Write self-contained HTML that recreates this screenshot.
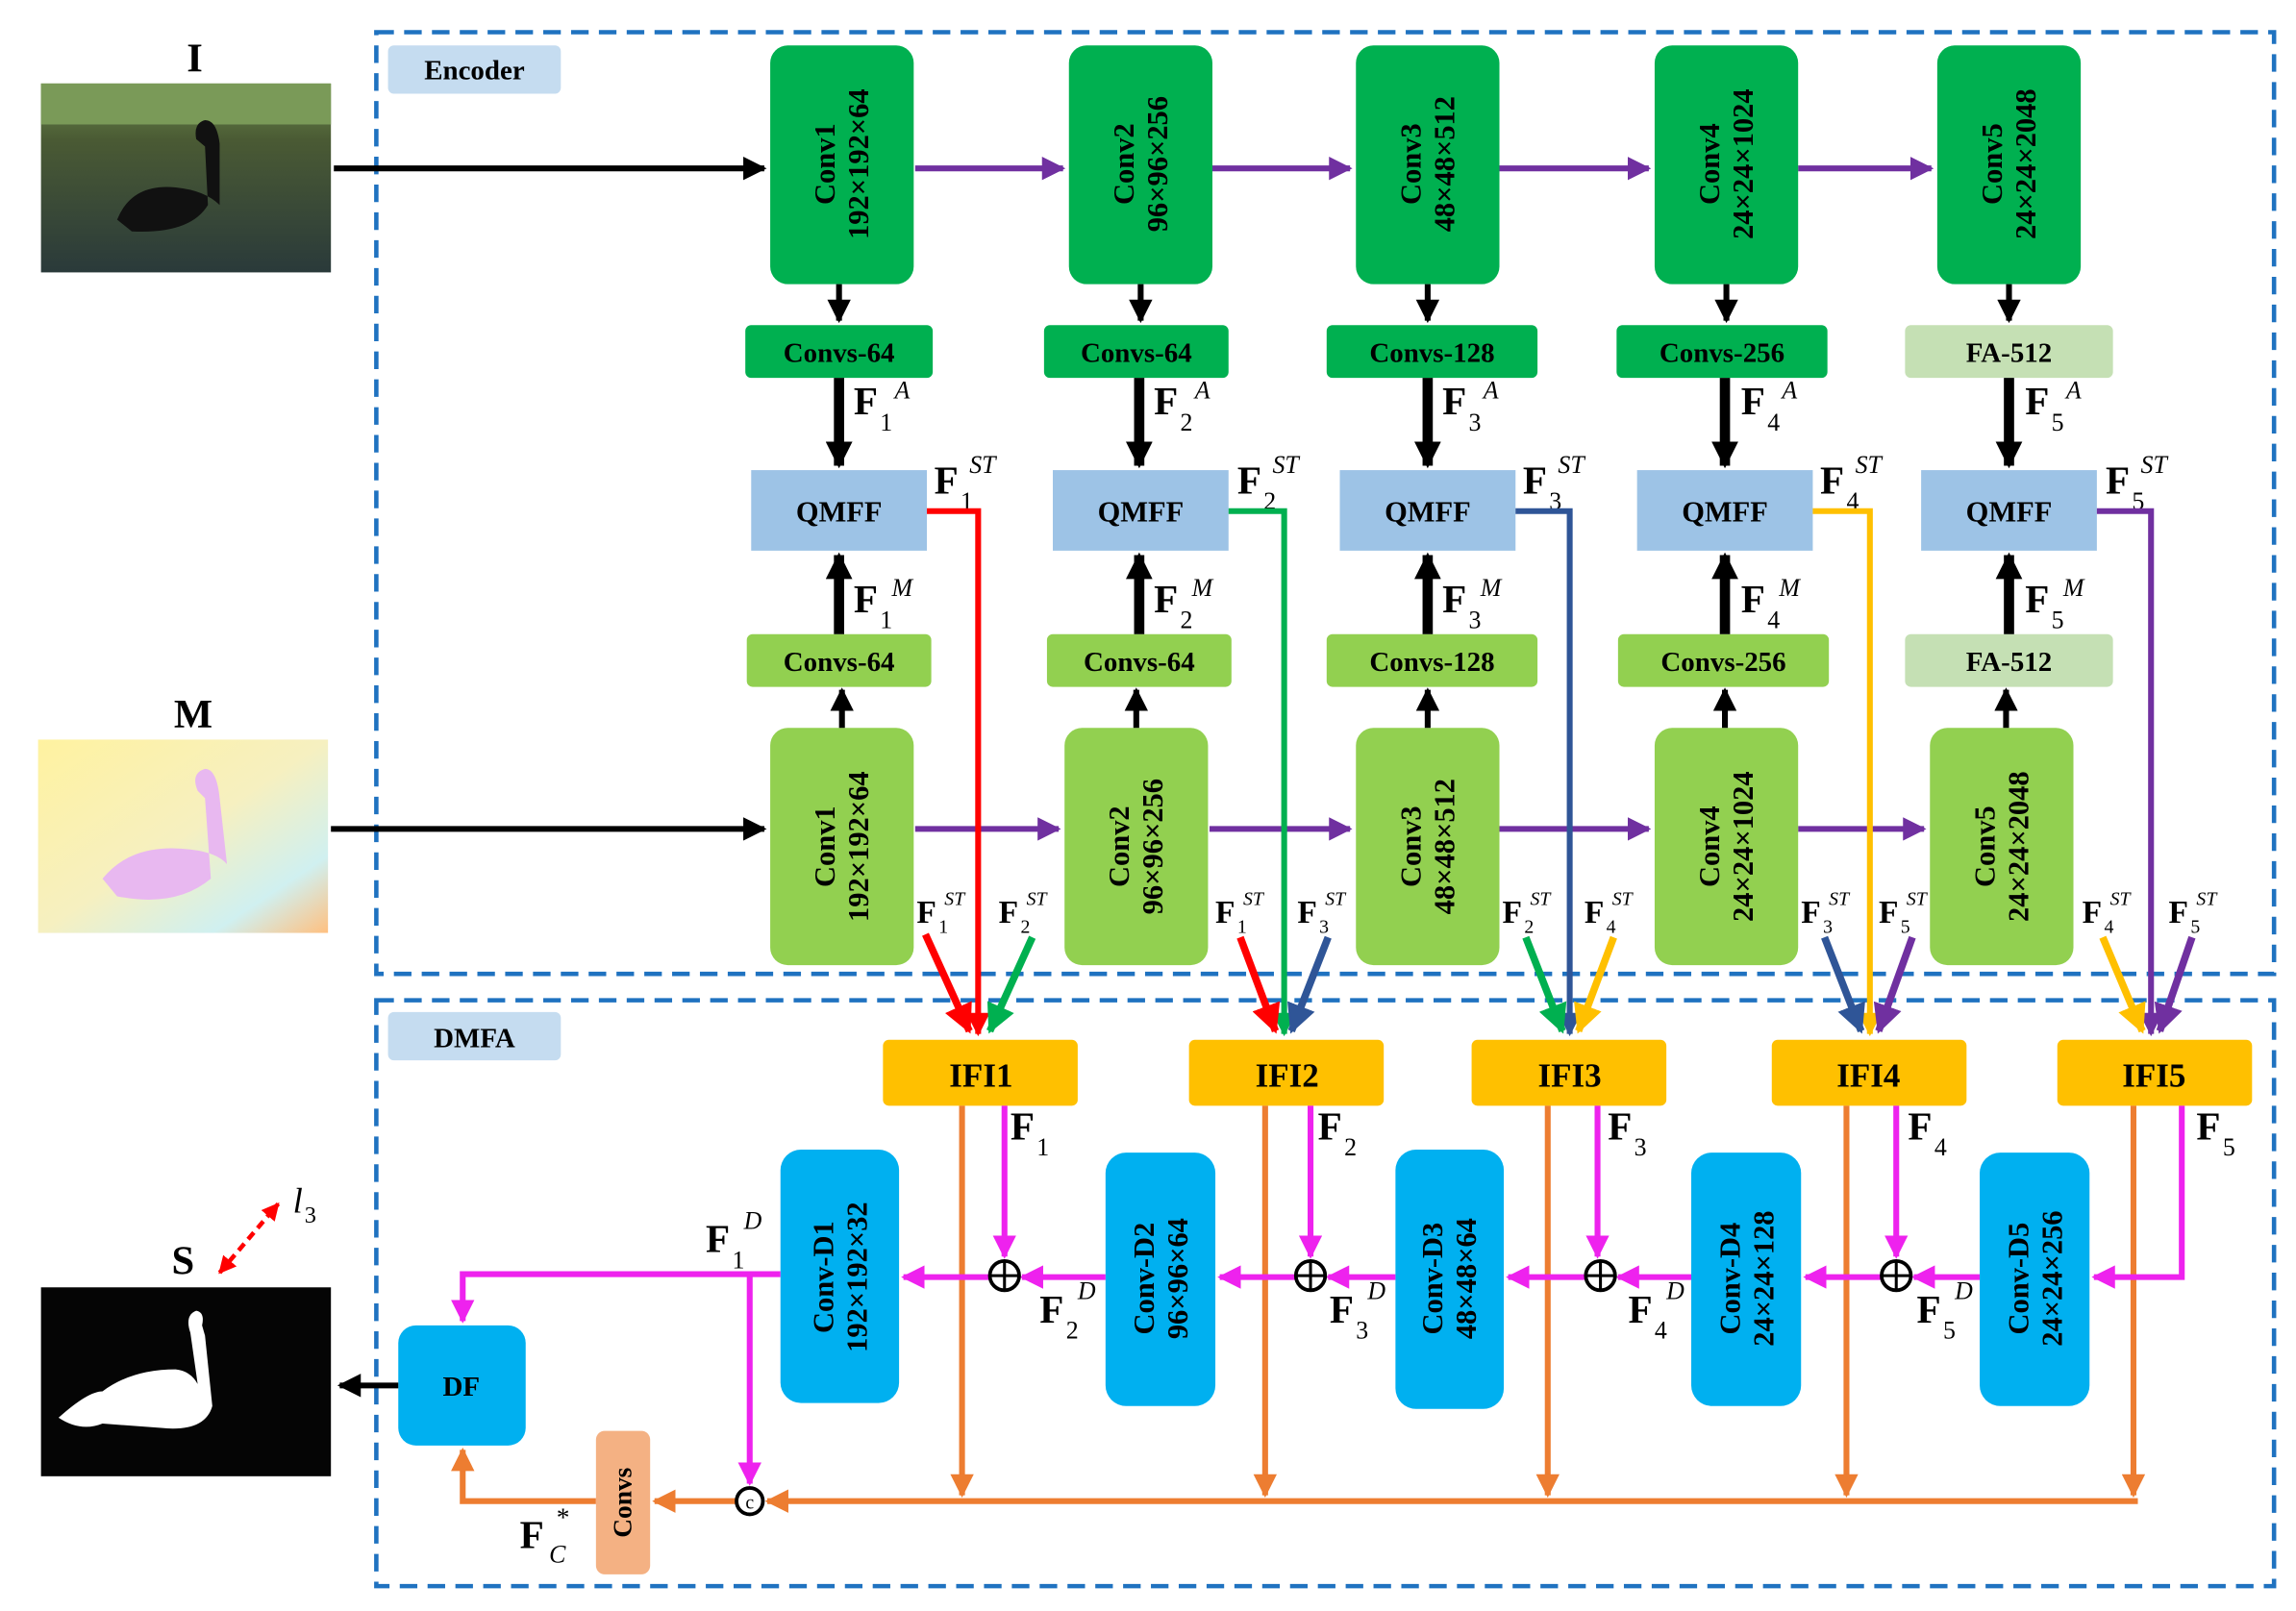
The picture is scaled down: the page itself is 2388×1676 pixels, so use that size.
<!DOCTYPE html>
<html><head><meta charset="utf-8"><style>
html,body{margin:0;padding:0;background:#fff}
svg{display:block}
text{font-family:"Liberation Serif",serif}
.b{font-weight:bold}
</style></head><body>
<svg width="2388" height="1676" viewBox="0 0 1568 1100" preserveAspectRatio="none" xmlns="http://www.w3.org/2000/svg">
<defs>
<marker id="ak" viewBox="0 0 10 10" refX="9" refY="5" markerWidth="4" markerHeight="4" orient="auto"><path d="M0,0L10,5L0,10z" fill="#000"/></marker>
<marker id="akt" viewBox="0 0 10 10" refX="9" refY="5" markerWidth="2.6" markerHeight="2.6" orient="auto"><path d="M0,0L10,5L0,10z" fill="#000"/></marker>
<marker id="ap" viewBox="0 0 10 10" refX="9" refY="5" markerWidth="4" markerHeight="4" orient="auto"><path d="M0,0L10,5L0,10z" fill="#7030A0"/></marker>
<marker id="ar" viewBox="0 0 10 10" refX="9" refY="5" markerWidth="4" markerHeight="4" orient="auto"><path d="M0,0L10,5L0,10z" fill="#FF0000"/></marker>
<marker id="ag" viewBox="0 0 10 10" refX="9" refY="5" markerWidth="4" markerHeight="4" orient="auto"><path d="M0,0L10,5L0,10z" fill="#00B050"/></marker>
<marker id="ab" viewBox="0 0 10 10" refX="9" refY="5" markerWidth="4" markerHeight="4" orient="auto"><path d="M0,0L10,5L0,10z" fill="#2F5597"/></marker>
<marker id="ay" viewBox="0 0 10 10" refX="9" refY="5" markerWidth="4" markerHeight="4" orient="auto"><path d="M0,0L10,5L0,10z" fill="#FFC000"/></marker>
<marker id="am" viewBox="0 0 10 10" refX="9" refY="5" markerWidth="4" markerHeight="4" orient="auto"><path d="M0,0L10,5L0,10z" fill="#EE22EE"/></marker>
<marker id="ao" viewBox="0 0 10 10" refX="9" refY="5" markerWidth="4" markerHeight="4" orient="auto"><path d="M0,0L10,5L0,10z" fill="#ED7D31"/></marker>
<marker id="ad" viewBox="0 0 10 10" refX="9" refY="5" markerWidth="4" markerHeight="4" orient="auto-start-reverse"><path d="M0,0L10,5L0,10z" fill="#FF0000"/></marker>
<linearGradient id="water" x1="0" y1="0" x2="0" y2="1"><stop offset="0" stop-color="#6b8a4a"/><stop offset="0.3" stop-color="#4a5a34"/><stop offset="1" stop-color="#2a3a3a"/></linearGradient>
<linearGradient id="mg" x1="0" y1="0" x2="1" y2="1"><stop offset="0" stop-color="#fff2a0"/><stop offset="0.5" stop-color="#f6f0c0"/><stop offset="0.8" stop-color="#d0f0f0"/><stop offset="1" stop-color="#ffc080"/></linearGradient>
</defs>

<rect x="257" y="22" width="1296" height="643" fill="none" stroke="#1F72C0" stroke-width="3" stroke-dasharray="12,7"/>
<rect x="257" y="683" width="1296" height="400" fill="none" stroke="#1F72C0" stroke-width="3" stroke-dasharray="12,7"/>
<rect x="265" y="31" width="118" height="33" rx="4" fill="#C5DCF0"/>
<text x="324" y="54" text-anchor="middle" font-size="19" class="b">Encoder</text>
<rect x="265" y="691" width="118" height="33" rx="4" fill="#C5DCF0"/>
<text x="324" y="715" text-anchor="middle" font-size="19" class="b">DMFA</text>

<text x="133" y="49" text-anchor="middle" font-size="28" class="b">I</text>
<rect x="28" y="57" width="198" height="129" fill="url(#water)"/>
<rect x="28" y="57" width="198" height="28" fill="#7a9a58"/>
<path d="M80,150 Q90,125 120,128 Q140,130 150,140 L150,98 Q148,82 140,82 Q132,84 134,95 L140,100 L142,140 Q130,160 90,158z" fill="#111"/>
<text x="132" y="497" text-anchor="middle" font-size="28" class="b">M</text>
<rect x="26" y="505" width="198" height="132" fill="url(#mg)"/>
<path d="M70,600 Q90,575 130,580 Q148,582 155,590 L150,545 Q148,525 140,525 Q130,528 135,540 L140,545 L144,600 Q120,620 80,612z" fill="#e8b8f0"/>
<text x="125" y="870" text-anchor="middle" font-size="28" class="b">S</text>
<rect x="28" y="879" width="198" height="129" fill="#050505"/>
<path d="M40,968 Q60,950 70,950 Q90,935 120,935 Q130,936 135,945 L130,910 Q126,898 134,895 Q140,896 138,905 L140,912 L145,960 Q140,978 110,975 L70,972 Q55,978 40,968z" fill="#fff"/>
<line x1="150" y1="869" x2="190" y2="822" stroke="#FF0000" stroke-width="3" stroke-dasharray="6,4" marker-end="url(#ad)" marker-start="url(#ad)"/>
<text x="200" y="828" font-size="24" font-style="italic">l</text><text x="208" y="835" font-size="16">3</text>

<line x1="228" y1="115" x2="522" y2="115" stroke="#000" stroke-width="4" marker-end="url(#ak)"/>
<line x1="226" y1="566" x2="522" y2="566" stroke="#000" stroke-width="4" marker-end="url(#ak)"/>

<g stroke="#7030A0" stroke-width="4" marker-end="url(#ap)">
<line x1="625" y1="115" x2="726" y2="115"/><line x1="828" y1="115" x2="922" y2="115"/><line x1="1024" y1="115" x2="1126" y2="115"/><line x1="1228" y1="115" x2="1319" y2="115"/>
<line x1="625" y1="566" x2="723" y2="566"/><line x1="826" y1="566" x2="922" y2="566"/><line x1="1024" y1="566" x2="1126" y2="566"/><line x1="1228" y1="566" x2="1314" y2="566"/>
</g>

<g fill="#00B050">
<rect x="526" y="31" width="98" height="163" rx="12"/><rect x="730" y="31" width="98" height="163" rx="12"/><rect x="926" y="31" width="98" height="163" rx="12"/><rect x="1130" y="31" width="98" height="163" rx="12"/><rect x="1323" y="31" width="98" height="163" rx="12"/>
</g>
<g font-size="20" class="b" text-anchor="middle">
<text transform="translate(575,112) rotate(-90)"><tspan x="0" y="-5">Conv1</tspan><tspan x="0" y="18">192×192×64</tspan></text>
<text transform="translate(779,112) rotate(-90)"><tspan x="0" y="-5">Conv2</tspan><tspan x="0" y="18">96×96×256</tspan></text>
<text transform="translate(975,112) rotate(-90)"><tspan x="0" y="-5">Conv3</tspan><tspan x="0" y="18">48×48×512</tspan></text>
<text transform="translate(1179,112) rotate(-90)"><tspan x="0" y="-5">Conv4</tspan><tspan x="0" y="18">24×24×1024</tspan></text>
<text transform="translate(1372,112) rotate(-90)"><tspan x="0" y="-5">Conv5</tspan><tspan x="0" y="18">24×24×2048</tspan></text>
</g>
<g fill="#92D050">
<rect x="526" y="497" width="98" height="162" rx="12"/><rect x="727" y="497" width="98" height="162" rx="12"/><rect x="926" y="497" width="98" height="162" rx="12"/><rect x="1130" y="497" width="98" height="162" rx="12"/><rect x="1318" y="497" width="98" height="162" rx="12"/>
</g>
<g font-size="20" class="b" text-anchor="middle">
<text transform="translate(575,578) rotate(-90)"><tspan x="0" y="-5">Conv1</tspan><tspan x="0" y="18">192×192×64</tspan></text>
<text transform="translate(776,578) rotate(-90)"><tspan x="0" y="-5">Conv2</tspan><tspan x="0" y="18">96×96×256</tspan></text>
<text transform="translate(975,578) rotate(-90)"><tspan x="0" y="-5">Conv3</tspan><tspan x="0" y="18">48×48×512</tspan></text>
<text transform="translate(1179,578) rotate(-90)"><tspan x="0" y="-5">Conv4</tspan><tspan x="0" y="18">24×24×1024</tspan></text>
<text transform="translate(1367,578) rotate(-90)"><tspan x="0" y="-5">Conv5</tspan><tspan x="0" y="18">24×24×2048</tspan></text>
</g>

<rect x="509" y="222" width="128" height="36" rx="4" fill="#00B050"/>
<rect x="713" y="222" width="126" height="36" rx="4" fill="#00B050"/>
<rect x="906" y="222" width="144" height="36" rx="4" fill="#00B050"/>
<rect x="1104" y="222" width="144" height="36" rx="4" fill="#00B050"/>
<rect x="1301" y="222" width="142" height="36" rx="4" fill="#C5E0B4"/>
<rect x="510" y="433" width="126" height="36" rx="4" fill="#92D050"/>
<rect x="715" y="433" width="126" height="36" rx="4" fill="#92D050"/>
<rect x="906" y="433" width="144" height="36" rx="4" fill="#92D050"/>
<rect x="1105" y="433" width="144" height="36" rx="4" fill="#92D050"/>
<rect x="1301" y="433" width="142" height="36" rx="4" fill="#C5E0B4"/>
<g font-size="19" class="b" text-anchor="middle">
<text x="573" y="247">Convs-64</text><text x="776" y="247">Convs-64</text><text x="978" y="247">Convs-128</text><text x="1176" y="247">Convs-256</text><text x="1372" y="247">FA-512</text>
<text x="573" y="458">Convs-64</text><text x="778" y="458">Convs-64</text><text x="978" y="458">Convs-128</text><text x="1177" y="458">Convs-256</text><text x="1372" y="458">FA-512</text>
</g>
<g fill="#9DC3E6">
<rect x="513" y="321" width="120" height="55"/><rect x="719" y="321" width="120" height="55"/><rect x="915" y="321" width="120" height="55"/><rect x="1118" y="321" width="120" height="55"/><rect x="1312" y="321" width="120" height="55"/>
</g>
<g font-size="20" class="b" text-anchor="middle">
<text x="573" y="356">QMFF</text><text x="779" y="356">QMFF</text><text x="975" y="356">QMFF</text><text x="1178" y="356">QMFF</text><text x="1372" y="356">QMFF</text>
</g>

<g stroke="#000" stroke-width="4" marker-end="url(#ak)">
<line x1="573" y1="194" x2="573" y2="219"/><line x1="779" y1="194" x2="779" y2="219"/><line x1="975" y1="194" x2="975" y2="219"/><line x1="1179" y1="194" x2="1179" y2="219"/><line x1="1372" y1="194" x2="1372" y2="219"/>
<line x1="575" y1="497" x2="575" y2="471"/><line x1="776" y1="497" x2="776" y2="471"/><line x1="975" y1="497" x2="975" y2="471"/><line x1="1178" y1="497" x2="1178" y2="471"/><line x1="1370" y1="497" x2="1370" y2="471"/>
</g>
<g stroke="#000" stroke-width="7" marker-end="url(#akt)">
<line x1="573" y1="258" x2="573" y2="318"/><line x1="778" y1="258" x2="778" y2="318"/><line x1="975" y1="258" x2="975" y2="318"/><line x1="1178" y1="258" x2="1178" y2="318"/><line x1="1372" y1="258" x2="1372" y2="318"/>
<line x1="573" y1="433" x2="573" y2="379"/><line x1="778" y1="433" x2="778" y2="379"/><line x1="975" y1="433" x2="975" y2="379"/><line x1="1178" y1="433" x2="1178" y2="379"/><line x1="1372" y1="433" x2="1372" y2="379"/>
</g>

<g font-size="27" class="b">
<text x="583" y="283">F</text><text x="788" y="283">F</text><text x="985" y="283">F</text><text x="1189" y="283">F</text><text x="1383" y="283">F</text>
<text x="583" y="418">F</text><text x="788" y="418">F</text><text x="985" y="418">F</text><text x="1189" y="418">F</text><text x="1383" y="418">F</text>
<text x="638" y="337">F</text><text x="845" y="337">F</text><text x="1040" y="337">F</text><text x="1243" y="337">F</text><text x="1438" y="337">F</text>
</g>
<g font-size="17">
<text x="601" y="294">1</text><text x="806" y="294">2</text><text x="1003" y="294">3</text><text x="1207" y="294">4</text><text x="1401" y="294">5</text>
<text x="601" y="429">1</text><text x="806" y="429">2</text><text x="1003" y="429">3</text><text x="1207" y="429">4</text><text x="1401" y="429">5</text>
<text x="656" y="348">1</text><text x="863" y="348">2</text><text x="1058" y="348">3</text><text x="1261" y="348">4</text><text x="1456" y="348">5</text>
</g>
<g font-size="17" font-style="italic">
<text x="611" y="272">A</text><text x="816" y="272">A</text><text x="1013" y="272">A</text><text x="1217" y="272">A</text><text x="1411" y="272">A</text>
<text x="609" y="407">M</text><text x="814" y="407">M</text><text x="1011" y="407">M</text><text x="1215" y="407">M</text><text x="1409" y="407">M</text>
<text x="662" y="323">ST</text><text x="869" y="323">ST</text><text x="1064" y="323">ST</text><text x="1267" y="323">ST</text><text x="1462" y="323">ST</text>
</g>

<polyline points="633,349 668,349 668,706" fill="none" stroke="#FF0000" stroke-width="4" marker-end="url(#ar)"/>
<polyline points="839,349 877,349 877,706" fill="none" stroke="#00B050" stroke-width="4" marker-end="url(#ag)"/>
<polyline points="1035,349 1072,349 1072,706" fill="none" stroke="#2F5597" stroke-width="4" marker-end="url(#ab)"/>
<polyline points="1238,349 1277,349 1277,706" fill="none" stroke="#FFC000" stroke-width="4" marker-end="url(#ay)"/>
<polyline points="1432,349 1469,349 1469,706" fill="none" stroke="#7030A0" stroke-width="4" marker-end="url(#ap)"/>
<g stroke-width="5">
<line x1="632" y1="638" x2="662" y2="704" stroke="#FF0000" marker-end="url(#ar)"/>
<line x1="705" y1="640" x2="676" y2="704" stroke="#00B050" marker-end="url(#ag)"/>
<line x1="847" y1="640" x2="871" y2="704" stroke="#FF0000" marker-end="url(#ar)"/>
<line x1="907" y1="640" x2="882" y2="704" stroke="#2F5597" marker-end="url(#ab)"/>
<line x1="1042" y1="640" x2="1067" y2="704" stroke="#00B050" marker-end="url(#ag)"/>
<line x1="1102" y1="640" x2="1078" y2="704" stroke="#FFC000" marker-end="url(#ay)"/>
<line x1="1246" y1="640" x2="1271" y2="704" stroke="#2F5597" marker-end="url(#ab)"/>
<line x1="1306" y1="640" x2="1283" y2="704" stroke="#7030A0" marker-end="url(#ap)"/>
<line x1="1436" y1="640" x2="1463" y2="704" stroke="#FFC000" marker-end="url(#ay)"/>
<line x1="1497" y1="640" x2="1475" y2="704" stroke="#7030A0" marker-end="url(#ap)"/>
</g>
<g font-size="22" class="b">
<text x="626" y="630">F</text><text x="682" y="630">F</text><text x="830" y="630">F</text><text x="886" y="630">F</text><text x="1026" y="630">F</text><text x="1082" y="630">F</text><text x="1230" y="630">F</text><text x="1283" y="630">F</text><text x="1422" y="630">F</text><text x="1481" y="630">F</text>
</g>
<g font-size="13">
<text x="641" y="637">1</text><text x="697" y="637">2</text><text x="845" y="637">1</text><text x="901" y="637">3</text><text x="1041" y="637">2</text><text x="1097" y="637">4</text><text x="1245" y="637">3</text><text x="1298" y="637">5</text><text x="1437" y="637">4</text><text x="1496" y="637">5</text>
</g>
<g font-size="13" font-style="italic">
<text x="645" y="618">ST</text><text x="701" y="618">ST</text><text x="849" y="618">ST</text><text x="905" y="618">ST</text><text x="1045" y="618">ST</text><text x="1101" y="618">ST</text><text x="1249" y="618">ST</text><text x="1302" y="618">ST</text><text x="1441" y="618">ST</text><text x="1500" y="618">ST</text>
</g>

<g fill="#FFC000">
<rect x="603" y="710" width="133" height="45" rx="4"/><rect x="812" y="710" width="133" height="45" rx="4"/><rect x="1005" y="710" width="133" height="45" rx="4"/><rect x="1210" y="710" width="133" height="45" rx="4"/><rect x="1405" y="710" width="133" height="45" rx="4"/>
</g>
<g font-size="23" class="b" text-anchor="middle">
<text x="670" y="742">IFI1</text><text x="879" y="742">IFI2</text><text x="1072" y="742">IFI3</text><text x="1276" y="742">IFI4</text><text x="1471" y="742">IFI5</text>
</g>

<g stroke="#ED7D31" stroke-width="4" fill="none">
<line x1="657" y1="755" x2="657" y2="1021" marker-end="url(#ao)"/>
<line x1="864" y1="755" x2="864" y2="1021" marker-end="url(#ao)"/>
<line x1="1057" y1="755" x2="1057" y2="1021" marker-end="url(#ao)"/>
<line x1="1261" y1="755" x2="1261" y2="1021" marker-end="url(#ao)"/>
<line x1="1457" y1="755" x2="1457" y2="1021" marker-end="url(#ao)"/>
<line x1="1460" y1="1025" x2="524" y2="1025" marker-end="url(#ao)"/>
<line x1="503" y1="1025" x2="447" y2="1025" marker-end="url(#ao)"/>
<polyline points="407,1025 316,1025 316,990" marker-end="url(#ao)"/>
</g>
<rect x="407" y="977" width="37" height="98" rx="6" fill="#F4B183"/>
<text transform="translate(431,1026) rotate(-90)" text-anchor="middle" font-size="18" class="b">Convs</text>
<circle cx="512" cy="1025" r="9" fill="#fff" stroke="#000" stroke-width="2.5"/>
<text x="512" y="1030" text-anchor="middle" font-size="13">c</text>

<g fill="#00B0F0">
<rect x="533" y="785" width="81" height="173" rx="14"/><rect x="755" y="787" width="75" height="173" rx="14"/><rect x="953" y="785" width="74" height="177" rx="14"/><rect x="1155" y="787" width="75" height="173" rx="14"/><rect x="1352" y="787" width="75" height="173" rx="14"/>
</g>
<g font-size="20" class="b" text-anchor="middle">
<text transform="translate(574,872) rotate(-90)"><tspan x="0" y="-5">Conv-D1</tspan><tspan x="0" y="18">192×192×32</tspan></text>
<text transform="translate(793,873) rotate(-90)"><tspan x="0" y="-5">Conv-D2</tspan><tspan x="0" y="18">96×96×64</tspan></text>
<text transform="translate(990,873) rotate(-90)"><tspan x="0" y="-5">Conv-D3</tspan><tspan x="0" y="18">48×48×64</tspan></text>
<text transform="translate(1193,873) rotate(-90)"><tspan x="0" y="-5">Conv-D4</tspan><tspan x="0" y="18">24×24×128</tspan></text>
<text transform="translate(1390,873) rotate(-90)"><tspan x="0" y="-5">Conv-D5</tspan><tspan x="0" y="18">24×24×256</tspan></text>
</g>
<rect x="272" y="905" width="87" height="82" rx="12" fill="#00B0F0"/>
<text x="315" y="953" text-anchor="middle" font-size="19" class="b">DF</text>
<line x1="272" y1="946" x2="232" y2="946" stroke="#000" stroke-width="4" marker-end="url(#ak)"/>

<g stroke="#EE22EE" stroke-width="4" fill="none" marker-end="url(#am)">
<line x1="686" y1="755" x2="686" y2="858"/><line x1="895" y1="755" x2="895" y2="858"/><line x1="1091" y1="755" x2="1091" y2="858"/><line x1="1295" y1="755" x2="1295" y2="858"/>
<polyline points="1490,755 1490,872 1430,872"/>
<line x1="676" y1="872" x2="617" y2="872"/><line x1="885" y1="872" x2="833" y2="872"/><line x1="1083" y1="872" x2="1030" y2="872"/><line x1="1285" y1="872" x2="1233" y2="872"/>
<line x1="755" y1="872" x2="698" y2="872"/><line x1="953" y1="872" x2="907" y2="872"/><line x1="1155" y1="872" x2="1105" y2="872"/><line x1="1352" y1="872" x2="1307" y2="872"/>
<polyline points="533,870 316,870 316,902"/>
<line x1="512" y1="870" x2="512" y2="1013"/>
</g>
<g fill="#fff" stroke="#000" stroke-width="2.5">
<circle cx="686" cy="871" r="10"/><circle cx="895" cy="871" r="10"/><circle cx="1093" cy="871" r="10"/><circle cx="1295" cy="871" r="10"/>
</g>
<g stroke="#000" stroke-width="2">
<path d="M676,871H696M686,861V881"/><path d="M885,871H905M895,861V881"/><path d="M1083,871H1103M1093,861V881"/><path d="M1285,871H1305M1295,861V881"/>
</g>

<g font-size="27" class="b">
<text x="690" y="778">F</text><text x="900" y="778">F</text><text x="1098" y="778">F</text><text x="1303" y="778">F</text><text x="1500" y="778">F</text>
<text x="482" y="855">F</text><text x="710" y="903">F</text><text x="908" y="903">F</text><text x="1112" y="903">F</text><text x="1309" y="903">F</text>
<text x="355" y="1057">F</text>
</g>
<g font-size="17">
<text x="708" y="789">1</text><text x="918" y="789">2</text><text x="1116" y="789">3</text><text x="1321" y="789">4</text><text x="1518" y="789">5</text>
<text x="500" y="866">1</text><text x="728" y="914">2</text><text x="926" y="914">3</text><text x="1130" y="914">4</text><text x="1327" y="914">5</text>
</g>
<g font-size="17" font-style="italic">
<text x="508" y="839">D</text><text x="736" y="887">D</text><text x="934" y="887">D</text><text x="1138" y="887">D</text><text x="1335" y="887">D</text>
<text x="375" y="1067">C</text>
</g>
<text x="380" y="1042" font-size="18">*</text>
</svg>
</body></html>
